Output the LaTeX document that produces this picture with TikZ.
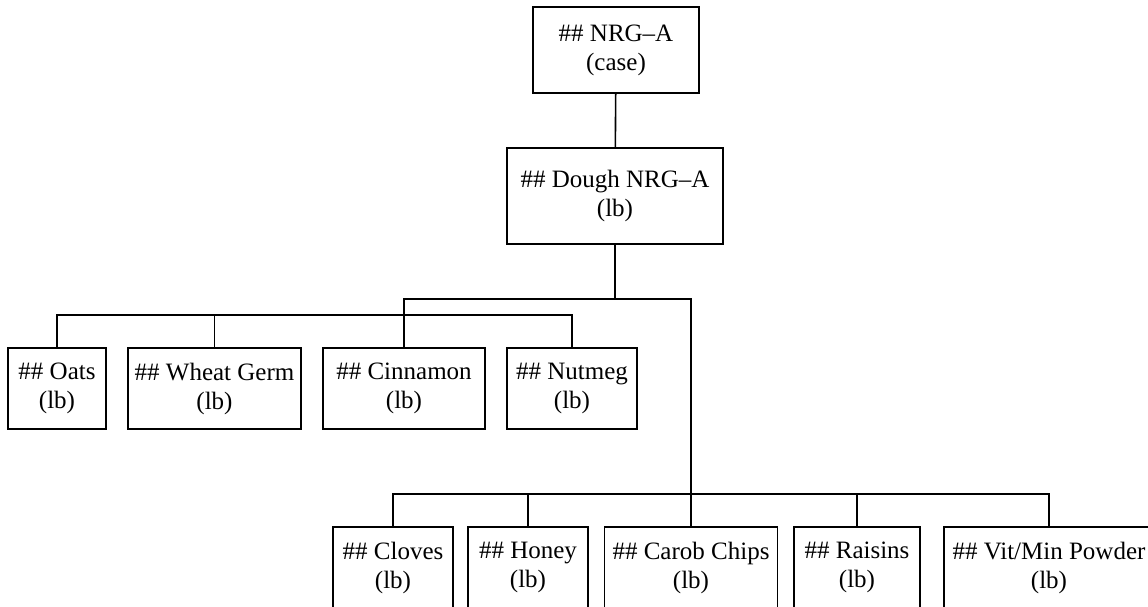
\documentclass[tikz,border=0pt]{standalone}
\usepackage{fontspec}
\setmainfont{Liberation Serif}
\usepackage{xcolor}
\tikzset{
  partbox/.style={draw=black,line width=1.6pt,fill=white,align=center,
    inner sep=1pt,minimum height=81pt,
    font=\fontsize{25}{29}\selectfont},
  link/.style={draw=black,line width=1.6pt}
}

\begin{document}
\begin{tikzpicture}[x=1pt,y=-1pt]
  \useasboundingbox (0,0) rectangle (1148,606);

  % bar heights
  \coordinate (barA) at (0,299);
  \coordinate (barB) at (0,315);
  \coordinate (barC) at (0,494);

  % top levels
  \node[partbox,minimum width=166pt,minimum height=86pt] (nrga) at (616,50) {\#\# NRG--A\\(case)};
  \node[partbox,minimum width=216pt,minimum height=96pt] (dough) at (615,196) {\#\# Dough NRG--A\\(lb)};

  % first group
  \node[partbox,minimum width=98pt]  (oats)     at (57,388.5)  {\#\# Oats\\(lb)};
  \node[partbox,minimum width=173pt] (wheat)    at (214.5,388.5) {\#\# Wheat Germ\\(lb)};
  \node[partbox,minimum width=162pt] (cinnamon) at (404,388.5) {\#\# Cinnamon\\(lb)};
  \node[partbox,minimum width=130pt] (nutmeg)   at (572,388.5) {\#\# Nutmeg\\(lb)};

  % second group
  \node[partbox,minimum width=120pt] (cloves)  at (393,567.5)  {\#\# Cloves\\(lb)};
  \node[partbox,minimum width=120pt] (honey)   at (528,567.5)  {\#\# Honey\\(lb)};
  \node[partbox,minimum width=173pt] (carob)   at (691,567.5)  {\#\# Carob Chips\\(lb)};
  \node[partbox,minimum width=126pt] (raisins) at (857,567.5)  {\#\# Raisins\\(lb)};
  \node[partbox,minimum width=210pt] (vitmin)  at (1049,567.5) {\#\# Vit/Min Powder\\(lb)};

  % connectors
  \draw[link] (nrga) -- (dough);
  \draw[link] (dough.south) -- (dough.south |- barA);
  \draw[link] (cinnamon.north) -- (cinnamon.north |- barA) -- (carob.north |- barA) -- (carob.north);
  \draw[link] (oats.north) |- (nutmeg.north |- barB) -- (nutmeg.north);
  \draw[link] (wheat.north) -- (wheat.north |- barB);
  \draw[link] (cloves.north) |- (vitmin.north |- barC) -- (vitmin.north);
  \draw[link] (honey.north) -- (honey.north |- barC);
  \draw[link] (raisins.north) -- (raisins.north |- barC);
\end{tikzpicture}
\end{document}
